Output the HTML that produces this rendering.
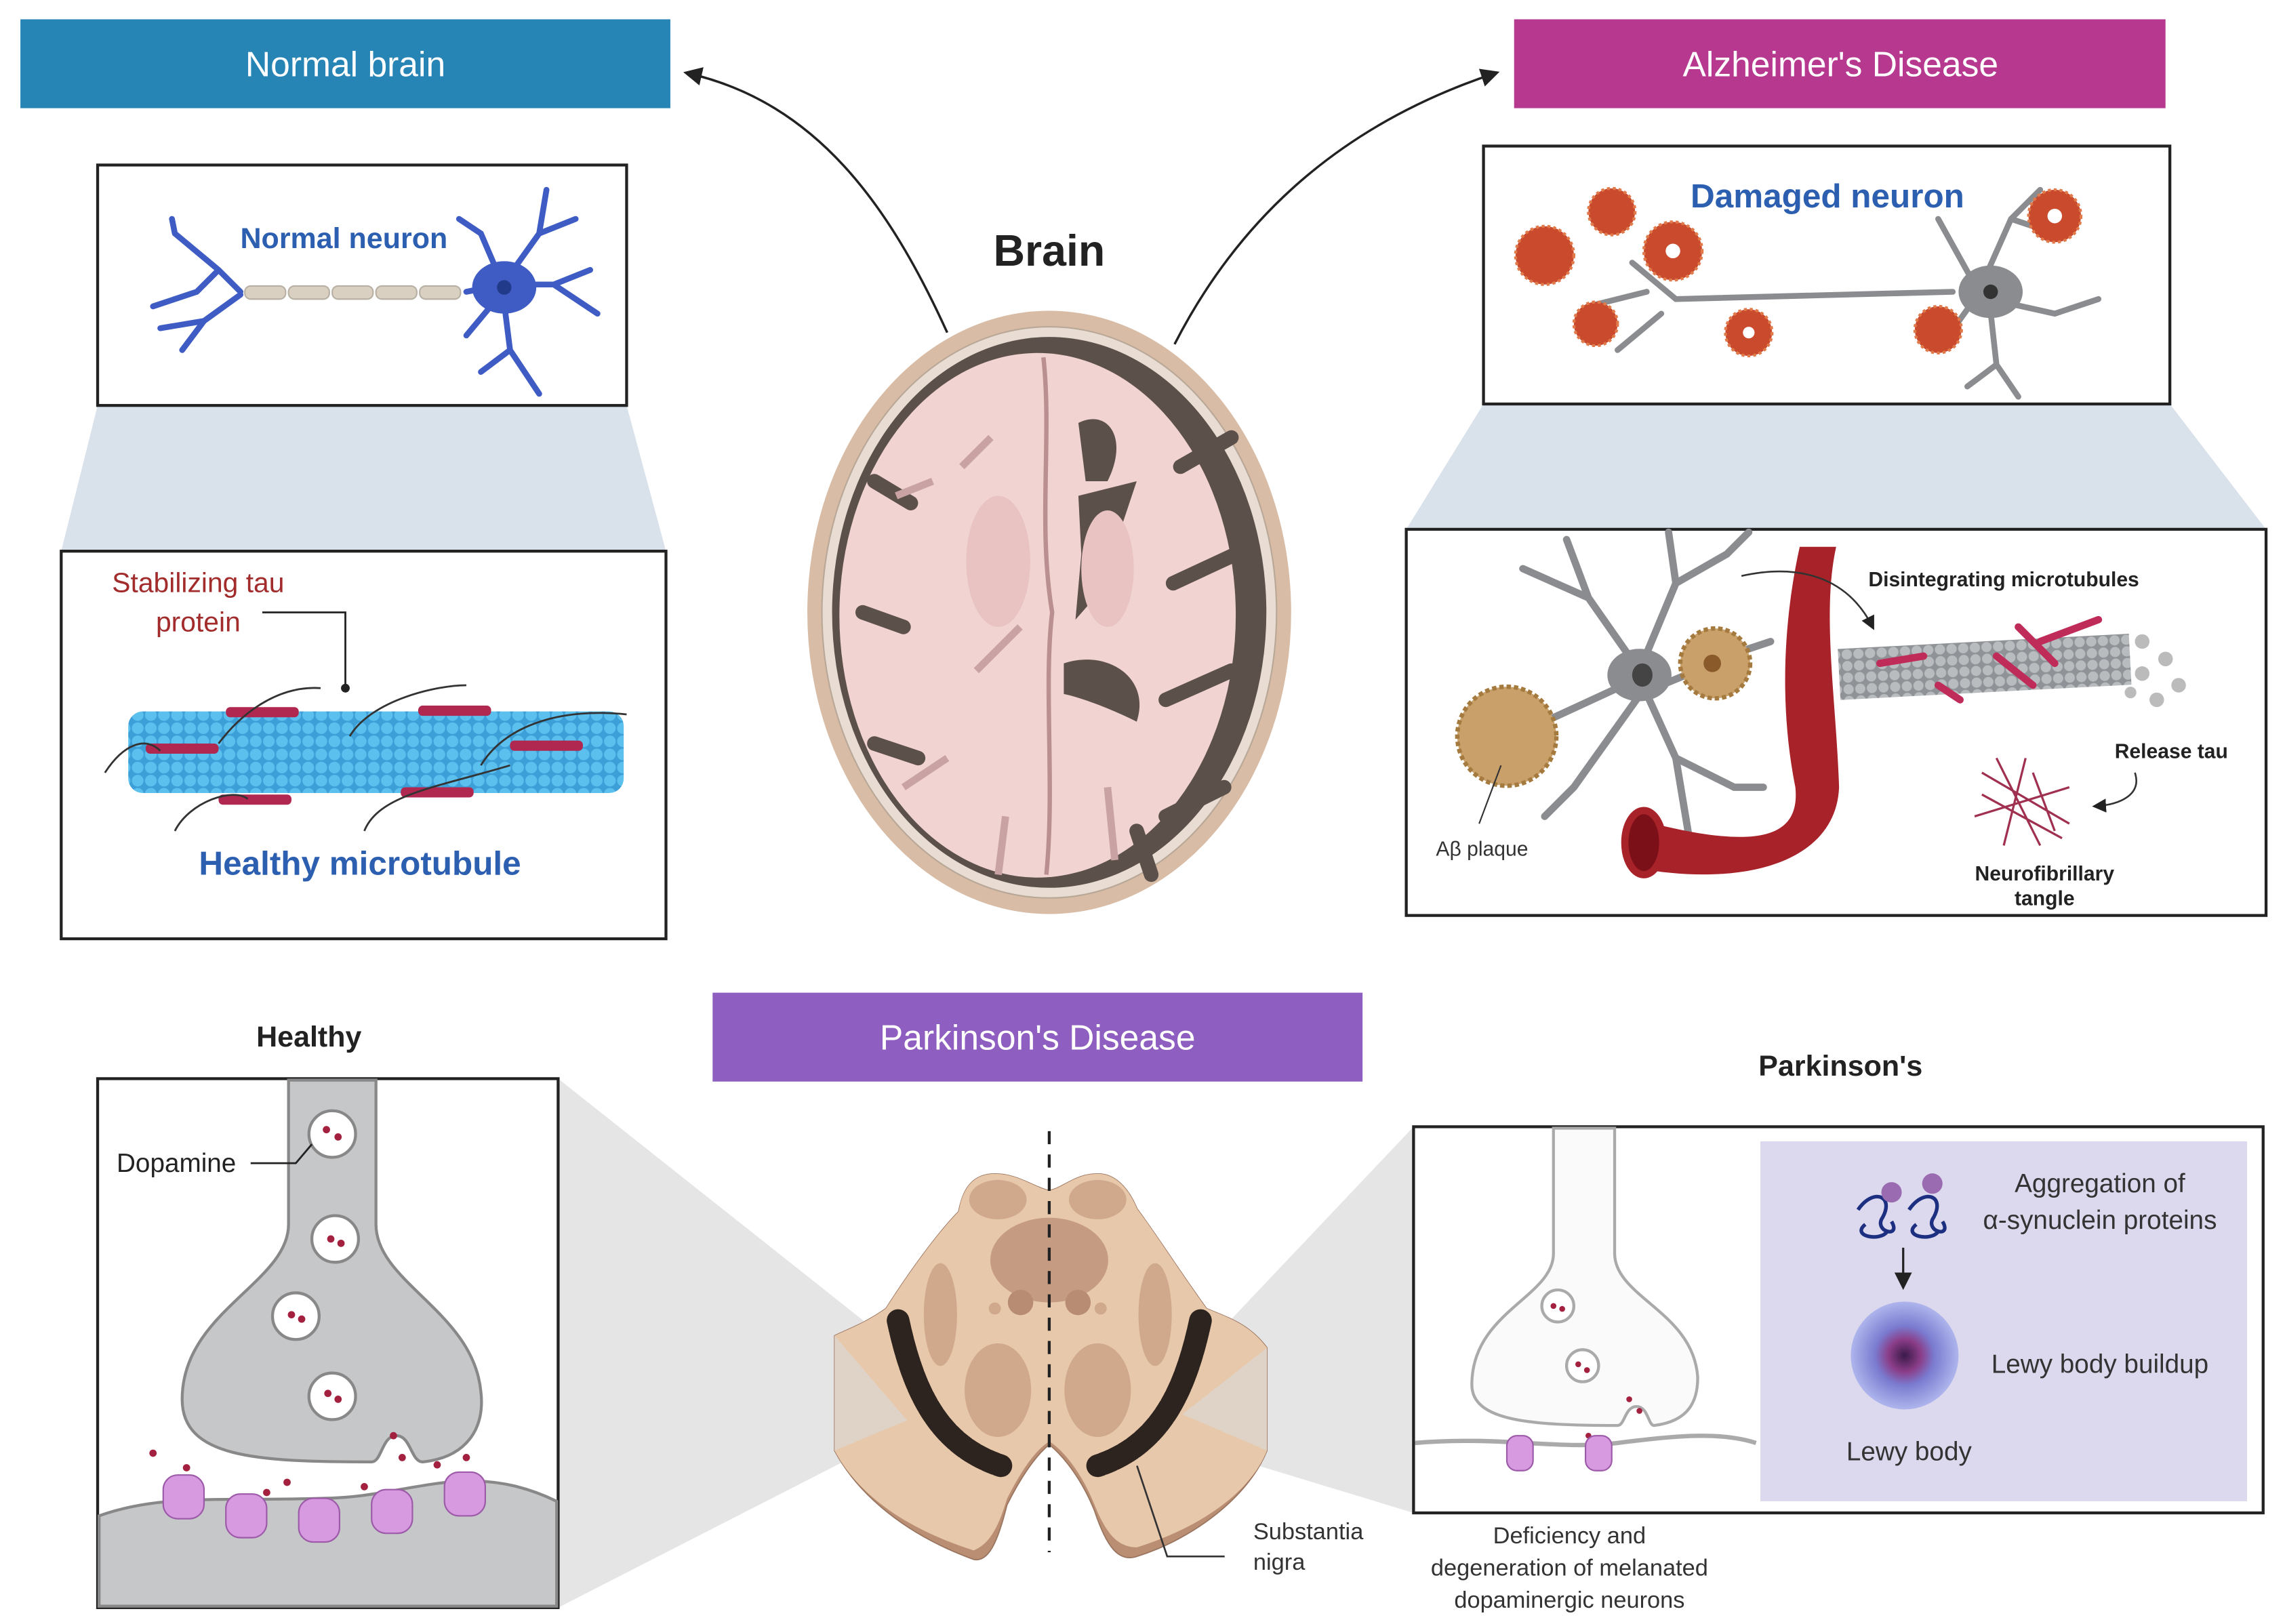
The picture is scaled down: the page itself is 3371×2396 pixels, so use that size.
<!DOCTYPE html>
<html><head><meta charset="utf-8"><style>
html,body{margin:0;padding:0;background:#fff;}
svg{display:block;}
text{font-family:"Liberation Sans",sans-serif;}
</style></head><body>
<svg width="3371" height="2396" viewBox="0 0 1568 1114" xmlns="http://www.w3.org/2000/svg">
<defs>
<pattern id="mt" width="9" height="9" patternUnits="userSpaceOnUse">
<rect width="9" height="9" fill="#3d9fd8"/><circle cx="4.5" cy="4.5" r="4" fill="#5cc0ee"/></pattern>
<pattern id="mtg" width="8" height="8" patternUnits="userSpaceOnUse">
<rect width="8" height="8" fill="#8f9296"/><circle cx="4" cy="4" r="3.5" fill="#b9bcbf"/></pattern>
<radialGradient id="lewy"><stop offset="0" stop-color="#3a1a4a"/><stop offset="0.3" stop-color="#8b3d88"/><stop offset="0.55" stop-color="#7a7bd0"/><stop offset="1" stop-color="#aeb5ec"/></radialGradient>
<marker id="ah" markerWidth="8" markerHeight="8" refX="6" refY="4" orient="auto"><path d="M0,0 L8,4 L0,8 Z" fill="#222"/></marker>
</defs>

<!-- headers -->
<rect x="14" y="13" width="446" height="61" fill="#2785b5"/>
<text x="237" y="52" font-size="24" fill="#fff" text-anchor="middle">Normal brain</text>
<rect x="1039" y="13" width="447" height="61" fill="#b6388f"/>
<text x="1263" y="52" font-size="24" fill="#fff" text-anchor="middle">Alzheimer's Disease</text>
<rect x="489" y="681" width="446" height="61" fill="#8e5fc0"/>
<text x="712" y="720" font-size="24" fill="#fff" text-anchor="middle">Parkinson's Disease</text>

<!-- arrows -->
<path d="M650,228 C610,140 560,70 472,50" fill="none" stroke="#222" stroke-width="1.6" marker-end="url(#ah)"/>
<path d="M806,236 C850,150 920,85 1026,50" fill="none" stroke="#222" stroke-width="1.6" marker-end="url(#ah)"/>

<!-- Normal brain trapezoid and boxes -->
<polygon points="67,278 430,278 457,378 42,378" fill="#d9e1eb"/>
<rect x="67" y="113" width="363" height="165" fill="#fff" stroke="#222" stroke-width="2"/>
<g stroke="#3e5cc3" stroke-width="4" fill="none" stroke-linecap="round">
<path d="M165,200 L150,185 L120,160 M150,185 L135,200 L105,210 M165,202 L140,220 L125,240 M140,220 L110,225 M120,160 L118,150"/>
<path d="M320,200 L345,195 L370,160 L375,130 M370,160 L395,150 M345,195 L380,195 L410,215 M380,195 L405,185 M345,200 L350,240 L370,270 M350,240 L330,255 M345,195 L330,160 L315,150 M345,200 L320,230"/>
</g>
<ellipse cx="346" cy="197" rx="22" ry="18" fill="#3e5cc3"/>
<circle cx="346" cy="197" r="5" fill="#223a8a"/>
<g fill="#d9d0c2" stroke="#b8b0a4">
<rect x="168" y="196" width="28" height="9" rx="4"/><rect x="198" y="196" width="28" height="9" rx="4"/><rect x="228" y="196" width="28" height="9" rx="4"/><rect x="258" y="196" width="28" height="9" rx="4"/><rect x="288" y="196" width="28" height="9" rx="4"/></g>
<text x="236" y="170" font-size="20" font-weight="bold" fill="#2c5fb0" text-anchor="middle">Normal neuron</text>

<rect x="42" y="378" width="415" height="266" fill="#fff" stroke="#222" stroke-width="2"/>
<text x="136" y="406" font-size="19" fill="#a22b2b" text-anchor="middle">Stabilizing tau</text>
<text x="136" y="433" font-size="19" fill="#a22b2b" text-anchor="middle">protein</text>
<path d="M180,420 L237,420 L237,470" fill="none" stroke="#222" stroke-width="1.3"/>
<circle cx="237" cy="472" r="3" fill="#222"/>
<rect x="88" y="488" width="340" height="56" rx="10" fill="url(#mt)"/>
<g fill="#b0284f">
<rect x="155" y="485" width="50" height="7" rx="3"/><rect x="287" y="484" width="50" height="7" rx="3"/>
<rect x="100" y="510" width="50" height="7" rx="3"/><rect x="350" y="508" width="50" height="7" rx="3"/>
<rect x="150" y="545" width="50" height="7" rx="3"/><rect x="275" y="540" width="50" height="7" rx="3"/></g>
<g fill="none" stroke="#333" stroke-width="1.3">
<path d="M72,530 C85,510 100,505 110,515 M150,510 C165,490 190,470 220,472 M240,505 C255,480 300,470 320,470 M330,525 C345,500 380,485 430,490 M120,570 C130,550 160,540 170,548 M250,570 C260,545 300,540 350,525"/></g>
<text x="247" y="600" font-size="23" font-weight="bold" fill="#2c5fb0" text-anchor="middle">Healthy microtubule</text>

<!-- Brain -->
<text x="720" y="182" font-size="30" font-weight="bold" fill="#222" text-anchor="middle">Brain</text>
<ellipse cx="720" cy="420" rx="166" ry="207" fill="#d8bca5"/>
<ellipse cx="720" cy="420" rx="156" ry="196" fill="#e9dcd2" stroke="#b9a898" stroke-width="1"/>
<ellipse cx="720" cy="420" rx="149" ry="189" fill="#5c504b"/>
<ellipse cx="712" cy="422" rx="136" ry="180" fill="#f1d3d2"/>
<path d="M716,245 C722,300 712,360 722,420 C716,470 724,540 718,600" fill="none" stroke="#b98f8f" stroke-width="3"/>
<path d="M740,290 C760,280 775,300 760,330 L745,330 Z" fill="#5c504b"/>
<path d="M740,340 L780,330 L770,360 L760,400 L738,425 L742,380 Z" fill="#5c504b"/>
<path d="M730,455 C760,445 790,465 780,495 C760,485 740,478 730,476 Z" fill="#5c504b"/>
<path d="M845,300 L810,320 M848,380 L805,400 M845,460 L800,480 M840,540 L800,560 M790,600 L780,570 M600,330 L625,345 M592,420 L620,430 M600,510 L630,520" stroke="#5c504b" stroke-width="10" fill="none" stroke-linecap="round"/>
<path d="M700,430 L670,460 M640,330 L615,340 M650,520 L620,540 M690,560 L685,600 M760,540 L765,590 M680,300 L660,320" stroke="#c9a3a3" stroke-width="5" fill="none"/>
<ellipse cx="685" cy="385" rx="22" ry="45" fill="#e8c3c2"/>
<ellipse cx="760" cy="390" rx="18" ry="40" fill="#e8c3c2"/>

<!-- Alzheimer top box -->
<polygon points="1018,277 1489,277 1555,363 965,363" fill="#d9e1eb"/>
<rect x="1018" y="100" width="471" height="177" fill="#fff" stroke="#222" stroke-width="2"/>
<g stroke="#8a8c8f" stroke-width="4" fill="none" stroke-linecap="round">
<path d="M1150,205 L1340,200 M1360,195 L1380,150 L1400,130 M1380,150 L1410,160 M1365,205 L1410,215 L1440,205 M1365,205 L1370,250 L1385,272 M1370,250 L1350,265 M1355,195 L1330,150 M1355,205 L1330,240"/>
<path d="M1150,205 L1120,180 M1140,215 L1110,240 M1130,200 L1090,210"/></g>
<ellipse cx="1366" cy="200" rx="22" ry="18" fill="#8a8c8f"/><circle cx="1366" cy="200" r="5" fill="#333"/>
<g fill="#c94a2c" stroke="#e07a4a" stroke-width="2" stroke-dasharray="2 2">
<circle cx="1060" cy="175" r="20"/><circle cx="1106" cy="145" r="16"/><circle cx="1148" cy="172" r="20"/><circle cx="1095" cy="222" r="15"/><circle cx="1200" cy="228" r="16"/><circle cx="1330" cy="226" r="16"/><circle cx="1410" cy="148" r="18"/></g>
<g fill="#fff"><circle cx="1148" cy="172" r="5"/><circle cx="1200" cy="228" r="4"/><circle cx="1410" cy="148" r="5"/></g>
<text x="1254" y="142" font-size="23" font-weight="bold" fill="#2c5fb0" text-anchor="middle">Damaged neuron</text>

<!-- Alzheimer lower box -->
<rect x="965" y="363" width="590" height="265" fill="#fff" stroke="#222" stroke-width="2"/>
<g stroke="#8a8c8f" stroke-width="5" fill="none" stroke-linecap="round">
<path d="M1125,460 L1090,410 L1045,390 M1090,410 L1075,370 M1125,460 L1150,400 L1185,380 L1200,365 M1150,400 L1145,365 M1125,465 L1060,495 L1030,490 M1125,465 L1150,520 L1190,540 L1210,540 M1150,520 L1160,580 L1180,590 M1130,470 L1080,540 L1060,560 M1140,470 L1200,445 L1215,440"/></g>
<ellipse cx="1125" cy="463" rx="22" ry="18" fill="#8a8c8f"/><ellipse cx="1127" cy="463" rx="7" ry="8" fill="#444"/>
<circle cx="1034" cy="505" r="34" fill="#c9a06a" stroke="#a57a3e" stroke-width="3" stroke-dasharray="3 2"/>
<circle cx="1177" cy="455" r="24" fill="#c9a06a" stroke="#a57a3e" stroke-width="3" stroke-dasharray="3 2"/>
<circle cx="1175" cy="455" r="6" fill="#8b5a2a"/>
<path d="M1235,375 C1225,420 1220,480 1232,540 C1235,570 1215,585 1135,565 L1120,595 C1200,610 1260,590 1262,540 C1260,480 1250,420 1260,375 Z" fill="#a8222a"/>
<ellipse cx="1128" cy="578" rx="13" ry="22" fill="#7c1018" stroke="#a8222a" stroke-width="5"/>
<path d="M1195,395 C1240,385 1270,400 1285,430" fill="none" stroke="#333" stroke-width="1.2" marker-end="url(#ah)"/>
<g transform="rotate(-3 1360 460)"><rect x="1262" y="440" width="200" height="35" fill="url(#mtg)"/></g>
<g stroke="#c02c5a" stroke-width="5" stroke-linecap="round">
<path d="M1290,455 L1320,450 M1370,450 L1395,470 M1400,440 L1440,425 M1385,430 L1410,455 M1330,470 L1345,480"/></g>
<g fill="#bbb"><circle cx="1470" cy="440" r="5"/><circle cx="1486" cy="452" r="5"/><circle cx="1470" cy="462" r="5"/><circle cx="1495" cy="470" r="5"/><circle cx="1480" cy="480" r="5"/><circle cx="1462" cy="475" r="4"/></g>
<text x="1375" y="402" font-size="14" font-weight="bold" fill="#222" text-anchor="middle">Disintegrating microtubules</text>
<text x="1490" y="520" font-size="14" font-weight="bold" fill="#222" text-anchor="middle">Release tau</text>
<path d="M1465,530 C1470,545 1455,552 1438,553" fill="none" stroke="#333" stroke-width="1.2" marker-end="url(#ah)"/>
<g stroke="#a0304f" stroke-width="1.5"><path d="M1360,530 L1420,565 M1370,520 L1400,580 M1355,560 L1420,540 M1390,520 L1375,580 M1360,545 L1415,575 M1395,530 L1410,570"/></g>
<text x="1403" y="604" font-size="14" font-weight="bold" fill="#222" text-anchor="middle">Neurofibrillary</text>
<text x="1403" y="621" font-size="14" font-weight="bold" fill="#222" text-anchor="middle">tangle</text>
<path d="M1015,565 L1030,525" stroke="#333" stroke-width="1"/>
<text x="1017" y="587" font-size="14" fill="#333" text-anchor="middle">Aβ plaque</text>

<!-- Parkinson: wedges -->
<polygon points="383,740 600,912 600,992 383,1103" fill="#e5e5e5"/>
<polygon points="845,905 970,773 970,1038 845,1000" fill="#e5e5e5"/>

<!-- Midbrain -->
<g transform="translate(581,767) scale(0.2075)">
<path d="M670,240 C620,230 560,180 480,185 C400,190 380,260 370,310 C300,380 200,520 130,630 C60,680 0,700 -40,720 L-40,1100 C40,1250 200,1380 420,1460 C470,1470 500,1400 530,1280 C570,1200 620,1120 670,1080 C720,1120 780,1200 820,1300 C860,1420 900,1470 960,1450 C1150,1390 1330,1250 1390,1100 L1390,760 C1330,680 1260,660 1190,630 C1110,520 1020,380 960,300 C940,250 900,190 840,185 C760,180 720,230 670,240Z" fill="#b98e72" stroke="#9a7560" stroke-width="4"/>
<path transform="translate(0,-40)" d="M670,280 C620,270 560,220 480,225 C400,230 380,300 370,350 C300,420 200,560 130,670 C60,720 0,740 -40,760 L-40,1140 C40,1290 200,1400 420,1470 C470,1450 500,1400 530,1300 C570,1220 620,1140 670,1110 C720,1140 780,1220 820,1320 C860,1420 900,1460 960,1460 C1150,1400 1330,1290 1390,1140 L1390,800 C1330,720 1260,700 1190,670 C1110,560 1020,420 960,340 C940,290 900,230 840,225 C760,220 720,270 670,280Z" fill="#e8c8aa"/>
<g fill="#d0a98c"><ellipse cx="500" cy="270" rx="95" ry="65"/><ellipse cx="830" cy="270" rx="95" ry="65"/>
<ellipse cx="310" cy="650" rx="55" ry="170"/><ellipse cx="1020" cy="650" rx="55" ry="170"/><ellipse cx="500" cy="900" rx="110" ry="155"/><ellipse cx="830" cy="900" rx="110" ry="155"/><circle cx="490" cy="630" r="20"/><circle cx="840" cy="630" r="20"/></g>
<ellipse cx="670" cy="470" rx="195" ry="140" fill="#c59c82"/>
<g fill="#b88c72"><circle cx="575" cy="610" r="42"/><circle cx="765" cy="610" r="42"/></g>
<path d="M170,670 C220,900 300,1080 510,1150" fill="none" stroke="#2d2420" stroke-width="75" stroke-linecap="round" stroke-dasharray="30 8"/>
<path d="M1170,670 C1120,900 1040,1080 830,1150" fill="none" stroke="#2d2420" stroke-width="75" stroke-linecap="round" stroke-dasharray="30 8"/>
<polygon points="-40,720 200,1000 -40,1100" fill="#d8d8d8" opacity="0.6"/>
<polygon points="1390,760 1110,980 1390,1100" fill="#d8d8d8" opacity="0.6"/>
<path d="M960,1150 L1060,1450 L1250,1450" fill="none" stroke="#333" stroke-width="6"/>
</g>
<line x1="720" y1="776" x2="720" y2="1065" stroke="#222" stroke-width="2" stroke-dasharray="9 7"/>
<text x="860" y="1056" font-size="16" fill="#333">Substantia</text>
<text x="860" y="1077" font-size="16" fill="#333">nigra</text>

<!-- Healthy box -->
<text x="212" y="718" font-size="20" font-weight="bold" fill="#222" text-anchor="middle">Healthy</text>
<rect x="67" y="740" width="316" height="363" fill="#fff" stroke="#222" stroke-width="2"/>
<path d="M198,741 L198,840 C198,880 125,900 125,960 C125,1000 175,1003 255,1003 C262,1003 262,985 272,985 C282,985 282,1003 290,1003 C320,1000 333,980 330,955 C325,900 258,880 258,840 L258,741 Z" fill="#c5c7c9" stroke="#888" stroke-width="2"/>
<path d="M68,1040 C110,1025 150,1030 220,1028 C280,1028 320,1000 382,1030 L382,1102 L68,1102 Z" fill="#c5c7c9" stroke="#888" stroke-width="2"/>
<g fill="#fff" stroke="#888" stroke-width="2"><ellipse cx="228" cy="778" rx="16" ry="16"/><ellipse cx="230" cy="850" rx="16" ry="16"/><ellipse cx="203" cy="903" rx="16" ry="16"/><ellipse cx="228" cy="958" rx="16" ry="16"/></g>
<g fill="#a3203f"><circle cx="224" cy="775" r="2.5"/><circle cx="232" cy="780" r="2.5"/><circle cx="227" cy="850" r="2.5"/><circle cx="234" cy="853" r="2.5"/><circle cx="200" cy="902" r="2.5"/><circle cx="207" cy="905" r="2.5"/><circle cx="225" cy="956" r="2.5"/><circle cx="232" cy="960" r="2.5"/>
<circle cx="105" cy="997" r="2.5"/><circle cx="128" cy="1007" r="2.5"/><circle cx="270" cy="985" r="2.5"/><circle cx="276" cy="1000" r="2.5"/><circle cx="300" cy="1005" r="2.5"/><circle cx="320" cy="1000" r="2.5"/><circle cx="183" cy="1024" r="2.5"/><circle cx="197" cy="1017" r="2.5"/><circle cx="250" cy="1020" r="2.5"/></g>
<g fill="#d79ae0" stroke="#9c5aa8" stroke-width="1"><rect x="112" y="1012" width="28" height="30" rx="10"/><rect x="155" y="1025" width="28" height="30" rx="10"/><rect x="205" y="1028" width="28" height="30" rx="10"/><rect x="255" y="1022" width="28" height="30" rx="10"/><rect x="305" y="1010" width="28" height="30" rx="10"/></g>
<text x="80" y="804" font-size="18" fill="#222">Dopamine</text>
<path d="M172,798 L203,798 L214,785" fill="none" stroke="#222" stroke-width="1.3"/>

<!-- Parkinson's box -->
<text x="1263" y="738" font-size="20" font-weight="bold" fill="#222" text-anchor="middle">Parkinson's</text>
<rect x="970" y="773" width="583" height="265" fill="#fff" stroke="#222" stroke-width="2"/>
<rect x="1208" y="783" width="334" height="247" fill="#dcd8ee"/>
<path d="M1066,774 L1066,860 C1066,890 1010,900 1010,950 C1010,975 1050,978 1110,978 C1115,978 1115,965 1123,965 C1131,965 1131,978 1135,978 C1160,975 1165,960 1165,945 C1162,900 1108,890 1108,860 L1108,774 Z" fill="#fafafa" stroke="#aaa" stroke-width="2"/>
<path d="M971,990 C1030,985 1070,995 1110,990 C1150,985 1180,982 1205,990" fill="none" stroke="#aaa" stroke-width="3"/>
<g fill="#fff" stroke="#aaa" stroke-width="2"><circle cx="1069" cy="896" r="11"/><circle cx="1086" cy="937" r="11"/></g>
<g fill="#a3203f"><circle cx="1066" cy="896" r="2"/><circle cx="1072" cy="898" r="2"/><circle cx="1083" cy="936" r="2"/><circle cx="1089" cy="940" r="2"/><circle cx="1118" cy="960" r="2"/><circle cx="1125" cy="968" r="2"/><circle cx="1090" cy="985" r="2"/></g>
<g fill="#d79ae0" stroke="#9c5aa8"><rect x="1034" y="985" width="18" height="24" rx="7"/><rect x="1088" y="985" width="18" height="24" rx="7"/></g>
<g fill="none" stroke="#1c2f80" stroke-width="2.5"><path d="M1275,830 C1285,815 1300,820 1292,835 C1285,845 1305,850 1298,838 M1280,840 C1270,848 1290,852 1295,845"/><path d="M1310,830 C1320,815 1335,820 1327,835 C1320,845 1340,850 1333,838 M1315,840 C1305,848 1325,852 1330,845"/></g>
<circle cx="1298" cy="818" r="7" fill="#9a6bb0"/><circle cx="1326" cy="812" r="7" fill="#9a6bb0"/>
<line x1="1306" y1="856" x2="1306" y2="882" stroke="#222" stroke-width="1.5" marker-end="url(#ah)"/>
<circle cx="1307" cy="930" r="37" fill="url(#lewy)"/>
<text x="1441" y="818" font-size="18" fill="#333" text-anchor="middle">Aggregation of</text>
<text x="1441" y="843" font-size="18" fill="#333" text-anchor="middle">α-synuclein proteins</text>
<text x="1441" y="942" font-size="18" fill="#333" text-anchor="middle">Lewy body buildup</text>
<text x="1310" y="1002" font-size="18" fill="#333" text-anchor="middle">Lewy body</text>
<text x="1077" y="1059" font-size="16" fill="#333" text-anchor="middle">Deficiency and</text>
<text x="1077" y="1081" font-size="16" fill="#333" text-anchor="middle">degeneration of melanated</text>
<text x="1077" y="1103" font-size="16" fill="#333" text-anchor="middle">dopaminergic neurons</text>
</svg>
</body></html>
